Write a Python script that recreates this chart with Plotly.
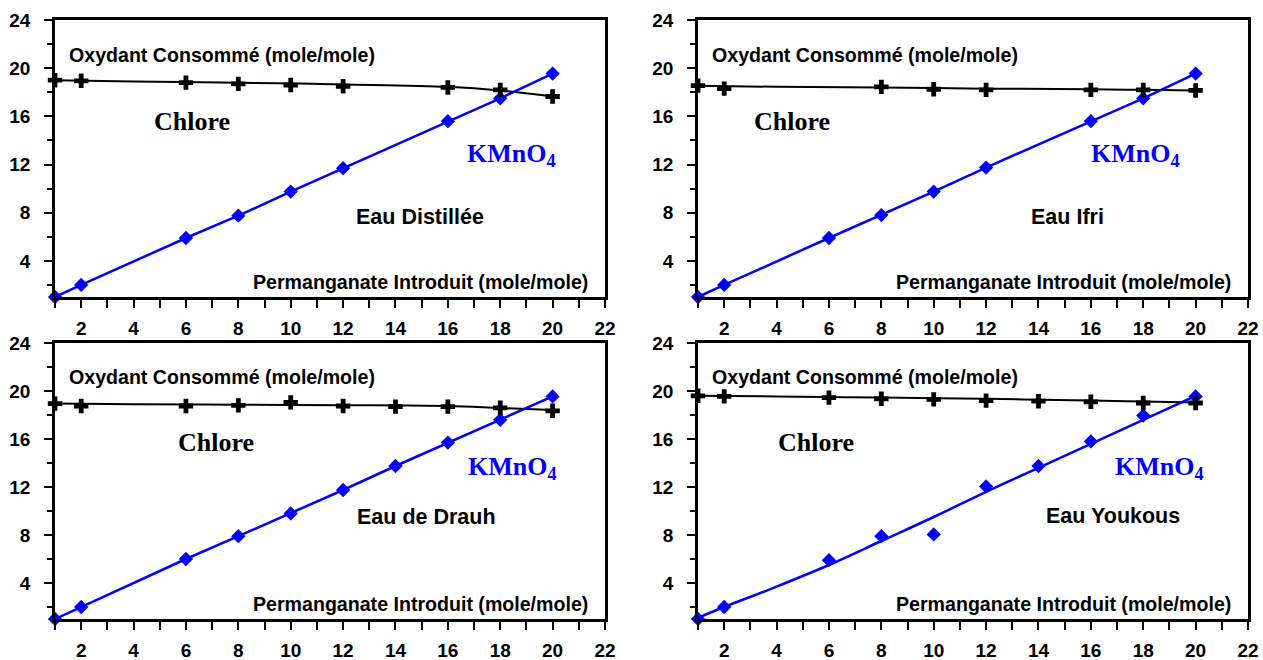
import plotly.graph_objects as go

# ---------------- data ----------------
x_dist = [1, 2, 6, 8, 10, 12, 16, 18, 20]
cl_dist = [19.0, 18.95, 18.8, 18.7, 18.6, 18.5, 18.4, 18.2, 17.65]
km_dist = [1.0, 2.0, 5.9, 7.75, 9.75, 11.7, 15.6, 17.5, 19.55]

x_ifri_cl = [1, 2, 8, 10, 12, 16, 18, 20]
cl_ifri = [18.55, 18.3, 18.45, 18.25, 18.2, 18.2, 18.2, 18.15]
x_ifri_km = [1, 2, 6, 8, 10, 12, 16, 18, 20]
km_ifri = [1.0, 2.0, 5.9, 7.8, 9.75, 11.75, 15.6, 17.5, 19.55]

x_drauh = [1, 2, 6, 8, 10, 12, 14, 16, 18, 20]
cl_drauh = [18.95, 18.75, 18.75, 18.8, 19.05, 18.75, 18.7, 18.7, 18.6, 18.35]
km_drauh = [1.0, 2.0, 6.0, 7.9, 9.8, 11.75, 13.75, 15.7, 17.6, 19.55]

x_youk = [1, 2, 6, 8, 10, 12, 14, 16, 18, 20]
cl_youk = [19.6, 19.55, 19.45, 19.35, 19.3, 19.2, 19.15, 19.1, 19.0, 19.0]
km_youk = [1.0, 2.0, 5.9, 7.9, 8.05, 12.05, 13.75, 15.8, 17.95, 19.55]

# fitted curves
fit_cl_x = [1, 4, 8, 12, 16, 18, 20]
fit_cl_dist = [19.0, 18.9, 18.8, 18.65, 18.45, 18.15, 17.65]
fit_cl_ifri = [18.55, 18.45, 18.39, 18.3, 18.25, 18.2, 18.14]
fit_cl_drauh = [18.95, 18.9, 18.85, 18.82, 18.75, 18.58, 18.42]
fit_cl_youk = [19.6, 19.55, 19.45, 19.35, 19.2, 19.12, 19.05]

fit_km_youk_x = [1, 2, 4, 6, 8, 10, 12, 14, 16, 18, 20]
fit_km_youk = [1.1, 2.0, 3.7, 5.5, 7.5, 9.5, 11.6, 13.6, 15.6, 17.6, 19.6]

panel_titles = ["Eau Distillée", "Eau Ifri", "Eau de Drauh", "Eau Youkous"]
y_label = "Oxydant Consommé (mole/mole)"
x_label = "Permanganate Introduit (mole/mole)"

# ---------------- style ----------------
W, H = 1263, 660
SANS = "Liberation Sans, Arial, sans-serif"
SERIF = "Liberation Serif, Times New Roman, serif"
BLUE = "#0000FF"

# pixel geometry of panels
xdom_px = [(55, 605), (698, 1248)]
ydom_px = [(20, 297), (343, 619)]


def xdom(i):
    a, b = xdom_px[i]
    return [a / W, b / W]


def ydom(j):
    a, b = ydom_px[j]
    return [1 - b / H, 1 - a / H]


fig = go.Figure()

panels = [
    dict(col=0, row=0, clx=x_dist, cl=cl_dist, kmx=x_dist, km=km_dist,
         fcl=fit_cl_dist, fkmx=None, fkm=None,
         chlore=(6.23, 15.6), kmno=(16.65, 12.8), title=(14.94, 7.67)),
    dict(col=1, row=0, clx=x_ifri_cl, cl=cl_ifri, kmx=x_ifri_km, km=km_ifri,
         fcl=fit_cl_ifri, fkmx=None, fkm=None,
         chlore=(4.59, 15.6), kmno=(15.93, 12.8), title=(15.09, 7.67)),
    dict(col=0, row=1, clx=x_drauh, cl=cl_drauh, kmx=x_drauh, km=km_drauh,
         fcl=fit_cl_drauh, fkmx=None, fkm=None,
         chlore=(7.15, 15.67), kmno=(16.69, 13.6), title=(15.17, 9.5)),
    dict(col=1, row=1, clx=x_youk, cl=cl_youk, kmx=x_youk, km=km_youk,
         fcl=fit_cl_youk, fkmx=fit_km_youk_x, fkm=fit_km_youk,
         chlore=(5.5, 15.67), kmno=(16.85, 13.6), title=(16.85, 9.58)),
]

annotations = []
for k, p in enumerate(panels):
    n = k + 1
    xa = "x" if n == 1 else f"x{n}"
    ya = "y" if n == 1 else f"y{n}"
    xkey = "xaxis" if n == 1 else f"xaxis{n}"
    ykey = "yaxis" if n == 1 else f"yaxis{n}"

    # chlore fitted line
    fig.add_trace(go.Scatter(x=fit_cl_x, y=p["fcl"], mode="lines",
                             line=dict(color="black", width=2, shape="spline"),
                             xaxis=xa, yaxis=ya, showlegend=False, cliponaxis=False))
    # KMnO4 line
    if p["fkm"] is not None:
        fig.add_trace(go.Scatter(x=p["fkmx"], y=p["fkm"], mode="lines",
                                 line=dict(color=BLUE, width=2.5, shape="spline"),
                                 xaxis=xa, yaxis=ya, showlegend=False, cliponaxis=False))
        km_mode = "markers"
    else:
        km_mode = "lines+markers"
    fig.add_trace(go.Scatter(x=p["kmx"], y=p["km"], mode=km_mode,
                             line=dict(color=BLUE, width=2.5),
                             marker=dict(symbol="diamond", size=11, color=BLUE),
                             xaxis=xa, yaxis=ya, showlegend=False, cliponaxis=False))
    # chlore markers
    fig.add_trace(go.Scatter(x=p["clx"], y=p["cl"], mode="markers",
                             marker=dict(symbol="cross", size=12, color="black"),
                             xaxis=xa, yaxis=ya, showlegend=False, cliponaxis=False))

    fig.update_layout({
        xkey: dict(domain=xdom(p["col"]), anchor=ya, range=[1, 22], automargin=False,
                   tick0=0, dtick=2, ticks="outside", ticklen=8, tickwidth=2,
                   tickcolor="black", showline=True, linecolor="black",
                   linewidth=2.5, mirror=True, showgrid=False, zeroline=False,
                   tickfont=dict(family=SANS, size=19, color="black", weight="bold"),
                   ticklabelstandoff=4,
                   minor=dict(dtick=1, tick0=0, ticks="outside", ticklen=8,
                              tickwidth=2, tickcolor="black", showgrid=False)),
        ykey: dict(domain=ydom(p["row"]), anchor=xa, range=[1, 24], automargin=False,
                   tick0=0, dtick=4, ticks="outside", ticklen=8, tickwidth=2,
                   tickcolor="black", showline=True, linecolor="black",
                   linewidth=2.5, mirror=True, showgrid=False, zeroline=False,
                   tickfont=dict(family=SANS, size=19, color="black", weight="bold"),
                   ticklabelstandoff=10,
                   minor=dict(dtick=2, tick0=0, ticks="outside", ticklen=5,
                              tickwidth=2, tickcolor="black", showgrid=False)),
    })

    ytop = 21.1 if p["row"] == 0 else 21.17
    annotations += [
        dict(x=1.46, y=ytop, xref=xa, yref=ya, text=y_label, showarrow=False,
             xanchor="left", yanchor="middle",
             font=dict(family=SANS, size=19.6, color="black", weight="bold")),
        dict(x=21.43, y=2.22, xref=xa, yref=ya, text=x_label, showarrow=False,
             xanchor="right", yanchor="middle",
             font=dict(family=SANS, size=19.6, color="black", weight="bold")),
        dict(x=p["chlore"][0], y=p["chlore"][1], xref=xa, yref=ya, text="Chlore",
             showarrow=False, xanchor="center", yanchor="middle",
             font=dict(family=SERIF, size=26, color="black", weight="bold")),
        dict(x=p["kmno"][0], y=p["kmno"][1], xref=xa, yref=ya,
             text="KMnO<sub>4</sub>", showarrow=False, xanchor="left", yanchor="middle",
             font=dict(family=SERIF, size=26, color=BLUE, weight="bold")),
        dict(x=p["title"][0], y=p["title"][1], xref=xa, yref=ya, text=panel_titles[k],
             showarrow=False, xanchor="center", yanchor="middle",
             font=dict(family=SANS, size=21.5, color="black", weight="bold")),
    ]

fig.update_layout(width=W, height=H, margin=dict(l=0, r=0, t=0, b=0, autoexpand=False),
                  paper_bgcolor="white", plot_bgcolor="white",
                  annotations=annotations, showlegend=False)

fig.write_html("out.html", config={"displayModeBar": False},
               post_script="document.body.style.margin='0px';"
                           "document.body.style.overflow='hidden';")
